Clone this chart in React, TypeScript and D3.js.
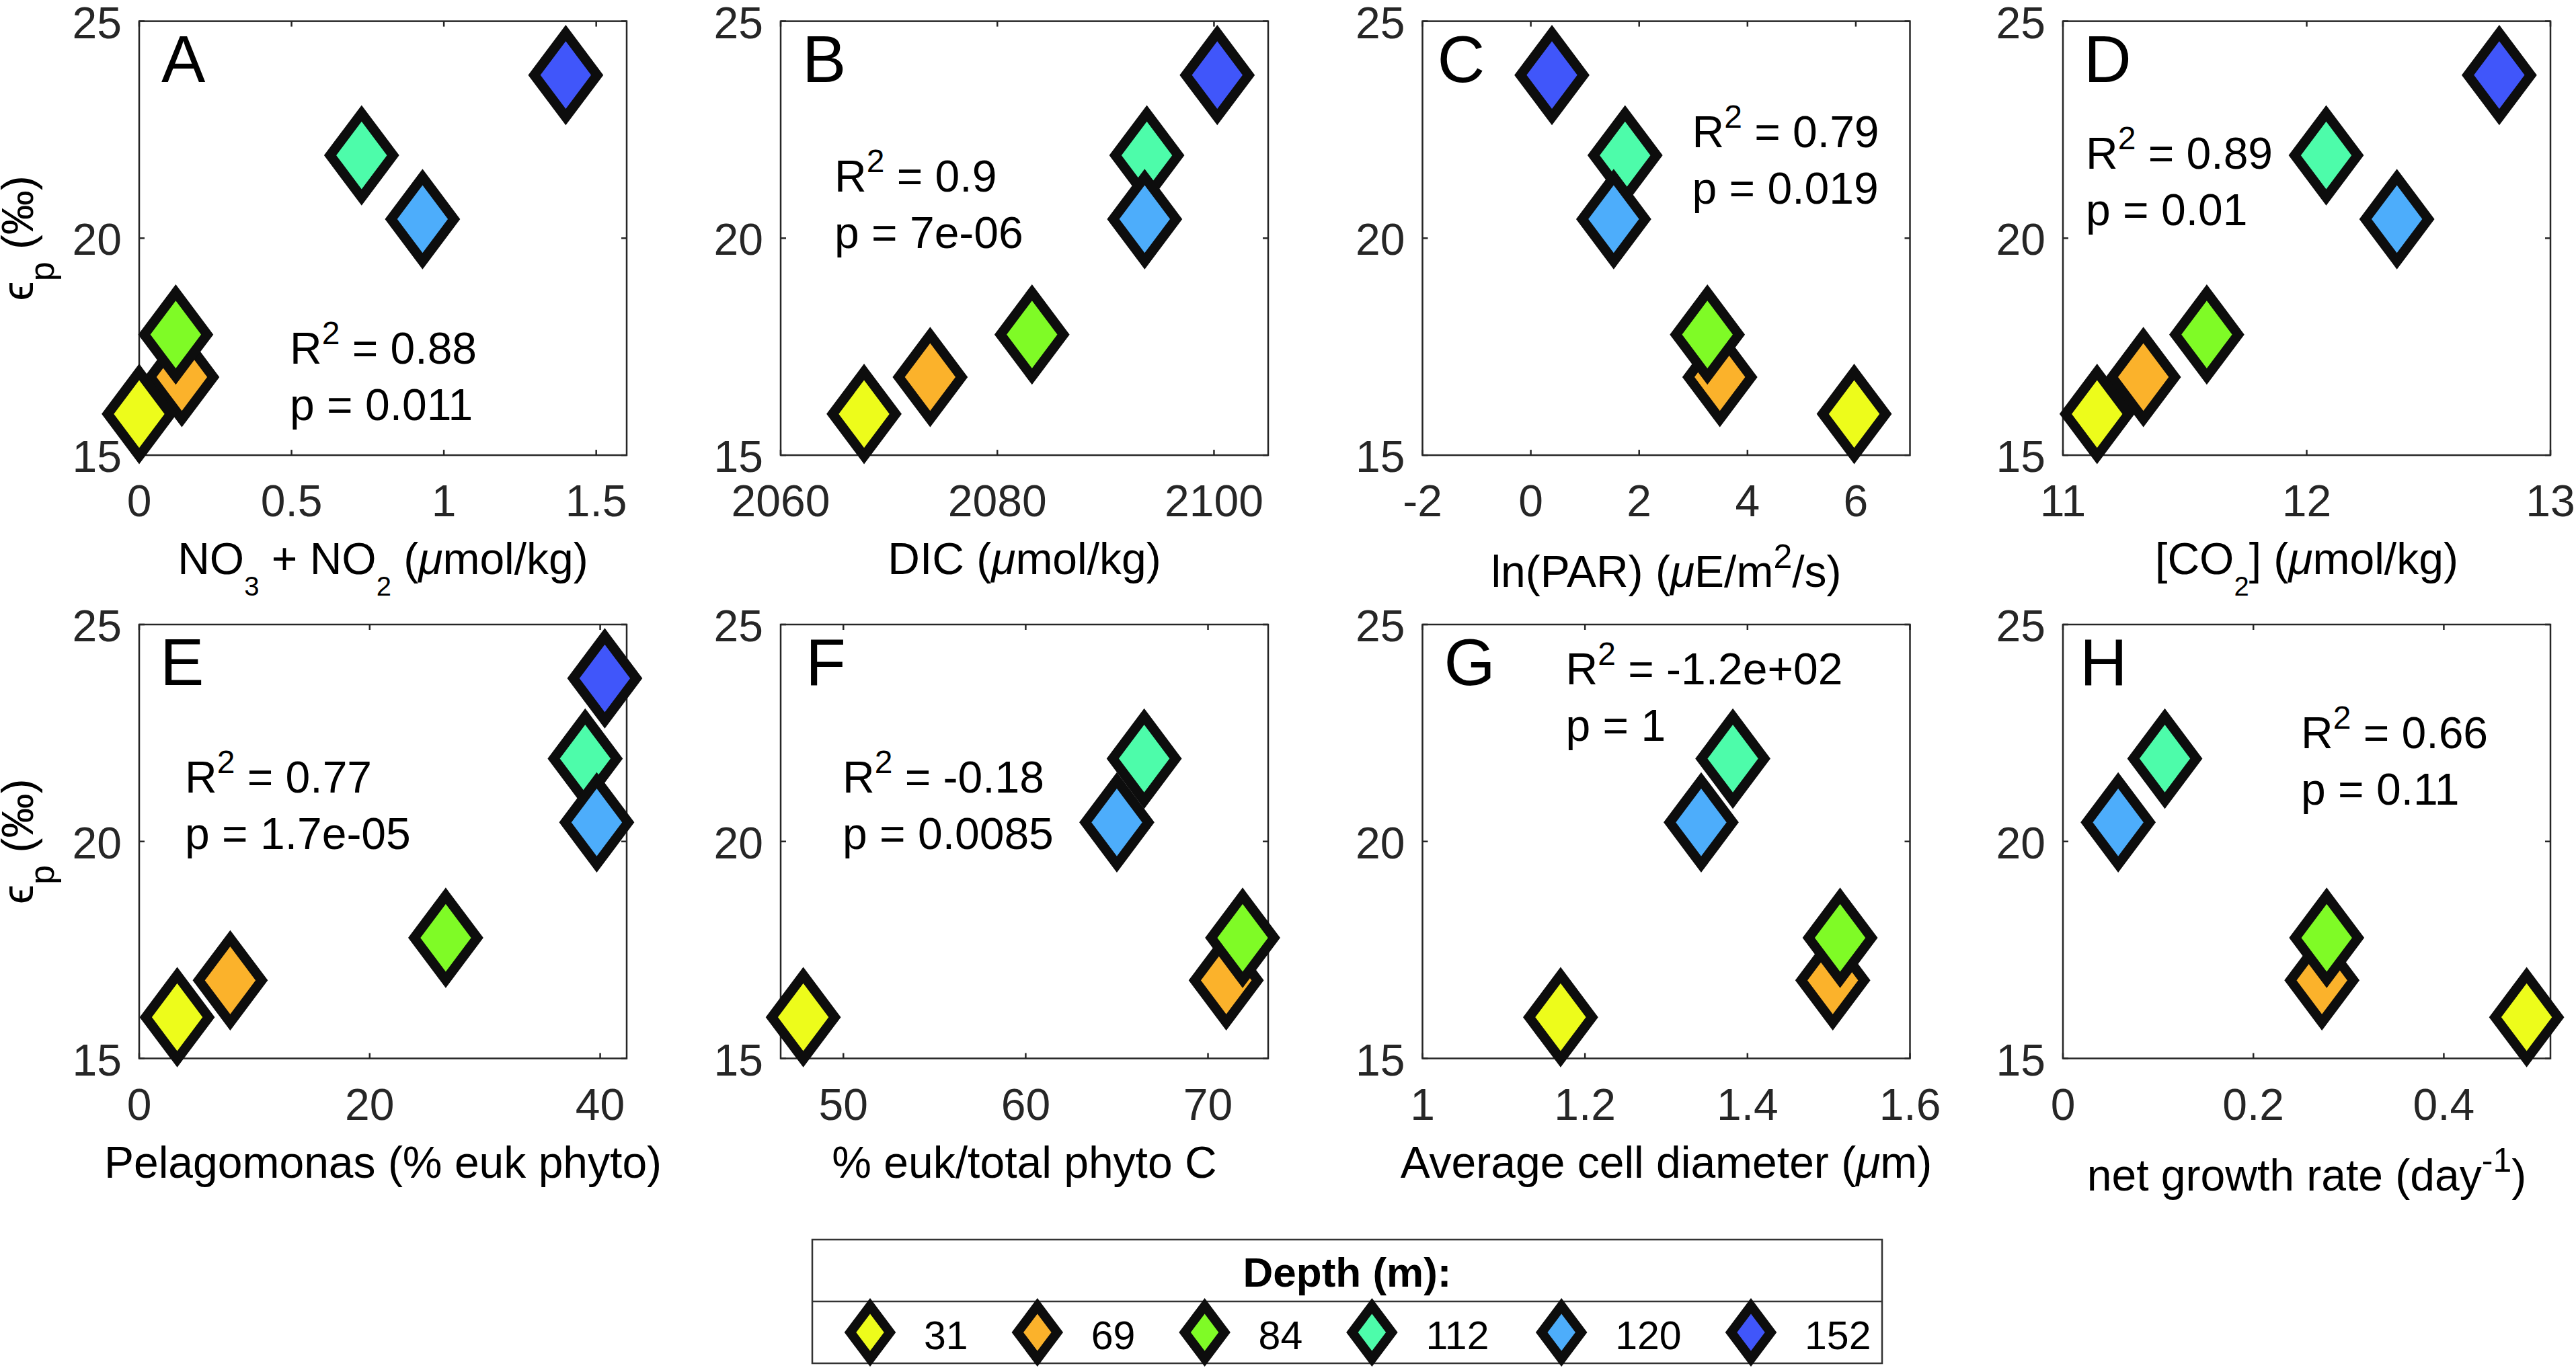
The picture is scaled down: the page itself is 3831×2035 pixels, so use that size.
import React from "react";
import * as d3 from "d3";

// ---------- data ----------
const depths = [31, 69, 84, 112, 120, 152];
const depthColors = ["#EDFC1B", "#FBB22B", "#7FFB26", "#4DFCAA", "#4DADFB", "#4056FA"];
const drawOrder = [5, 3, 4, 1, 2, 0];

const epsP = [15.95, 16.8, 17.78, 21.91, 20.44, 23.76];
const no3no2 = [0.0, 0.14, 0.12, 0.73, 0.93, 1.4];
const dic = [2067.7, 2073.8, 2083.2, 2093.8, 2093.6, 2100.3];
const lnPAR = [5.97, 3.49, 3.26, 1.74, 1.53, 0.39];
const co2 = [11.14, 11.33, 11.59, 12.08, 12.37, 12.79];
const pelago = [3.3, 7.9, 26.6, 38.7, 39.7, 40.4];
const eukFrac = [47.8, 71.0, 71.9, 66.5, 65.0, null];
const cellDiam = [1.17, 1.505, 1.514, 1.382, 1.343, null];
const growth = [0.487, 0.272, 0.277, 0.107, 0.058, null];

const panelLetters = ["A", "B", "C", "D", "E", "F", "G", "H"];
const r2Values = ["0.88", "0.9", "0.79", "0.89", "0.77", "-0.18", "-1.2e+02", "0.66"];
const pValues = ["0.011", "7e-06", "0.019", "0.01", "1.7e-05", "0.0085", "1", "0.11"];

const xDomains = [
  [0, 1.6],
  [2060, 2105],
  [-2, 7],
  [11, 13],
  [0, 42.3],
  [46.56, 73.3],
  [1, 1.6],
  [0, 0.512],
];
const xTicks = [
  [0, 0.5, 1, 1.5],
  [2060, 2080, 2100],
  [-2, 0, 2, 4, 6],
  [11, 12, 13],
  [0, 20, 40],
  [50, 60, 70],
  [1, 1.2, 1.4, 1.6],
  [0, 0.2, 0.4],
];
const yDomain = [15, 25];
const yTicks = [15, 20, 25];

type Seg = { t: string; s?: "sub" | "sup"; i?: boolean };
const xLabels: Seg[][] = [
  [{ t: "NO" }, { t: "3", s: "sub" }, { t: " + NO" }, { t: "2", s: "sub" }, { t: " (" }, { t: "μ", i: true }, { t: "mol/kg)" }],
  [{ t: "DIC (" }, { t: "μ", i: true }, { t: "mol/kg)" }],
  [{ t: "ln(PAR) (" }, { t: "μ", i: true }, { t: "E/m" }, { t: "2", s: "sup" }, { t: "/s)" }],
  [{ t: "[CO" }, { t: "2", s: "sub" }, { t: "] (" }, { t: "μ", i: true }, { t: "mol/kg)" }],
  [{ t: "Pelagomonas (% euk phyto)" }],
  [{ t: "% euk/total phyto C" }],
  [{ t: "Average cell diameter (" }, { t: "μ", i: true }, { t: "m)" }],
  [{ t: "net growth rate (day" }, { t: "-1", s: "sup" }, { t: ")" }],
];
const yLabel: Seg[] = [{ t: "\u03F5" }, { t: "p", s: "sub" }, { t: " (‰)" }];
const legendTitle = "Depth (m):";

const xSeries = [no3no2, dic, lnPAR, co2, pelago, eukFrac, cellDiam, growth];

// ---------- layout / style ----------
const W = 3831;
const H = 2035;
const FONT = '"Liberation Sans", Arial, Helvetica, sans-serif';
const AX = "#262626";
const colLefts = [207, 1161, 2115.5, 3068];
const rowTops = [31.6, 929];
const PW = 725;
const PH = 645.5;
const letterX = [33, 32, 22, 31, 31, 37, 32, 25];
const statPos = [
  [224, 509],
  [80, 253],
  [401, 187],
  [34, 219.5],
  [68, 249.5],
  [92, 249.5],
  [213, 89],
  [354, 183.5],
];
const xLabelDy = [177, 177, 196, 177, 177, 177, 177, 196];

function RichText(props: {
  segs: Seg[];
  x: number;
  y: number;
  size: number;
  anchor?: string;
  transform?: string;
  subSize?: number;
  supSize?: number;
  subShift?: number;
  supShift?: number;
  weight?: string;
}) {
  const {
    segs, x, y, size, anchor = "start", transform,
    subSize = 40, supSize = 50, subShift = 32, supShift = -28, weight = "normal",
  } = props;
  let cur = 0;
  return (
    <text x={x} y={y} fontSize={size} textAnchor={anchor} transform={transform}
      fontFamily={FONT} fill="#000" fontWeight={weight}>
      {segs.map((sg, k) => {
        const target = sg.s === "sub" ? subShift : sg.s === "sup" ? supShift : 0;
        const dy = target - cur;
        cur = target;
        return (
          <tspan key={k} dy={dy} fontSize={sg.s === "sub" ? subSize : sg.s === "sup" ? supSize : size}
            fontStyle={sg.i ? "italic" : "normal"} style={{ whiteSpace: "pre" }}>
            {sg.t}
          </tspan>
        );
      })}
    </text>
  );
}

function diamondPath(w: number, h: number) {
  const p = d3.path();
  p.moveTo(0, -h);
  p.lineTo(w, 0);
  p.lineTo(0, h);
  p.lineTo(-w, 0);
  p.closePath();
  return p.toString();
}

const panelDiamond = diamondPath(46.8, 62.5);
const legendDiamond = diamondPath(29.5, 39.25);

function Panel({ idx }: { idx: number }) {
  const col = idx % 4;
  const row = Math.floor(idx / 4);
  const left = colLefts[col];
  const top = rowTops[row];
  const x = d3.scaleLinear().domain(xDomains[idx]).range([left, left + PW]);
  const y = d3.scaleLinear().domain(yDomain).range([top + PH, top]);
  const xs = xSeries[idx];
  const bottom = top + PH;
  const right = left + PW;
  const TL = 8;
  return (
    <g>
      {/* box */}
      <rect x={left} y={top} width={PW} height={PH} fill="#fff" stroke={AX} strokeWidth={2.5} />
      {/* x ticks */}
      {xTicks[idx].map((t) => (
        <g key={"xt" + t}>
          <line x1={x(t)} x2={x(t)} y1={bottom} y2={bottom - TL} stroke={AX} strokeWidth={2.5} />
          <line x1={x(t)} x2={x(t)} y1={top} y2={top + TL} stroke={AX} strokeWidth={2.5} />
          <text x={x(t)} y={bottom + 91} textAnchor="middle" fontSize={66} fontFamily={FONT} fill="#262626">
            {String(t)}
          </text>
        </g>
      ))}
      {/* y ticks */}
      {yTicks.map((t) => (
        <g key={"yt" + t}>
          <line x1={left} x2={left + TL} y1={y(t)} y2={y(t)} stroke={AX} strokeWidth={2.5} />
          <line x1={right} x2={right - TL} y1={y(t)} y2={y(t)} stroke={AX} strokeWidth={2.5} />
          <text x={left - 26} y={y(t) + 25} textAnchor="end" fontSize={66} fontFamily={FONT} fill="#262626">
            {String(t)}
          </text>
        </g>
      ))}
      {/* markers */}
      {drawOrder.map((i) => {
        const v = xs[i];
        if (v === null || v === undefined) return null;
        return (
          <path key={"m" + i} d={panelDiamond} transform={`translate(${x(v)},${y(epsP[i])})`}
            fill={depthColors[i]} stroke="#0d0d0d" strokeWidth={14.6} strokeLinejoin="miter" />
        );
      })}
      {/* panel letter */}
      <text x={left + letterX[idx]} y={top + 90} fontSize={98} fontFamily={FONT} fill="#000">
        {panelLetters[idx]}
      </text>
      {/* stats */}
      <RichText segs={[{ t: "R" }, { t: "2", s: "sup" }, { t: " = " + r2Values[idx] }]}
        x={left + statPos[idx][0]} y={top + statPos[idx][1]} size={66} supSize={48} supShift={-29} />
      <RichText segs={[{ t: "p = " + pValues[idx] }]}
        x={left + statPos[idx][0]} y={top + statPos[idx][1] + 84} size={66} />
      {/* x label */}
      <RichText segs={xLabels[idx]} x={left + PW / 2} y={bottom + xLabelDy[idx]} size={66} anchor="middle" />
      {/* y label */}
      {col === 0 && (
        <RichText segs={yLabel} x={0} y={0} size={66} anchor="middle" subSize={52} subShift={31}
          transform={`translate(49,${top + PH / 2}) rotate(-90)`} />
      )}
    </g>
  );
}

function Legend() {
  const lx0 = 1208, lx1 = 2799, ly0 = 1844, ly1 = 1936, ly2 = 2028;
  const base = 182.8, perDigit = 33;
  const centers: number[] = [];
  let c = 1294;
  depths.forEach((d, i) => {
    centers.push(c);
    c += base + perDigit * String(d).length;
  });
  return (
    <g>
      <rect x={lx0} y={ly0} width={lx1 - lx0} height={ly2 - ly0} fill="#fff" stroke="#333" strokeWidth={2.5} />
      <line x1={lx0} x2={lx1} y1={ly1} y2={ly1} stroke="#333" strokeWidth={2.5} />
      <text x={(lx0 + lx1) / 2} y={1914} textAnchor="middle" fontSize={62} fontWeight="bold" fontFamily={FONT} fill="#000">
        {legendTitle}
      </text>
      {depths.map((d, i) => (
        <g key={"lg" + d}>
          <path d={legendDiamond} transform={`translate(${centers[i]},1982)`} fill={depthColors[i]}
            stroke="#0d0d0d" strokeWidth={14} />
          <text x={centers[i] + 80} y={2006.5} fontSize={59} fontFamily={FONT} fill="#000">
            {String(d)}
          </text>
        </g>
      ))}
    </g>
  );
}

export default function App() {
  return (
    <svg width={W} height={H} viewBox={`0 0 ${W} ${H}`}
      style={{ position: "absolute", left: 0, top: 0, background: "#fff" }}>
      <rect x={0} y={0} width={W} height={H} fill="#fff" />
      {panelLetters.map((_, i) => (
        <Panel key={i} idx={i} />
      ))}
      <Legend />
    </svg>
  );
}
